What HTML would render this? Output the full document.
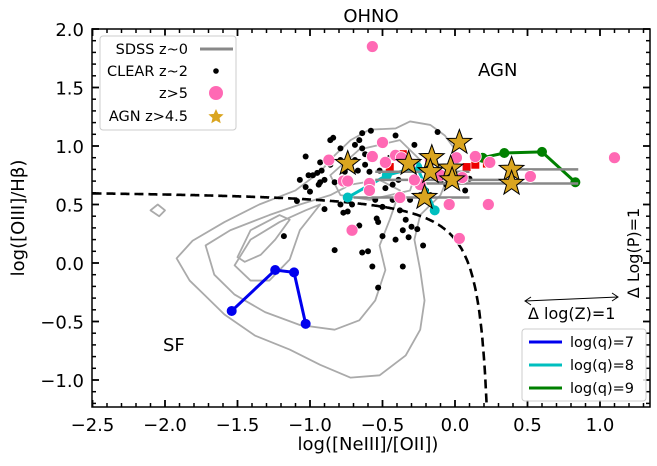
<!DOCTYPE html>
<html><head><meta charset="utf-8"><style>
body{margin:0;background:#fff}
svg text{font-family:"DejaVu Sans","Liberation Sans",sans-serif}
</style></head><body>
<svg id="c" width="657" height="461" viewBox="0 0 657 461" xmlns="http://www.w3.org/2000/svg"></svg>
<script>
const xTicks=[-2.5,-2.0,-1.5,-1.0,-0.5,0.0,0.5,1.0];
const yTicks=[-1.0,-0.5,0.0,0.5,1.0,1.5,2.0];
const qLines={q7:[[-1.54,-0.41],[-1.24,-0.06],[-1.11,-0.08],[-1.03,-0.52]],q8:[[-0.74,0.56],[-0.47,0.75],[-0.26,0.82],[-0.14,0.45]],q9:[[0.19,0.90],[0.34,0.94],[0.60,0.95],[0.83,0.69]]};
const clearX=[-1.03,-1.09,-0.90,-1.18,-0.83,-0.66,-0.73,-0.64,-0.60,-0.54,-0.50,-0.57,-0.53,-0.36,-0.30,-0.26,-0.22,-0.12,-0.79,-0.77,-1.01,-0.95,-0.93,-0.83,-0.76,-0.86,-0.84,-0.69,-0.66,-0.64,-0.69,-0.72,-0.76,-0.67,-0.62,-0.59,-0.79,-0.86,-0.90,-0.94,-0.92,-1.00,-0.52,-0.48,-0.43,-0.39,-0.43,-0.38,-0.34,-0.36,-0.27,-0.24,-0.17,0.00,-0.06,-0.28,-0.41,-0.58,-0.64,-0.79,-1.07,-1.03,-0.98,-0.55,-0.53,-0.50,-0.31,-0.71,-0.74,-0.32,-0.41,-0.20,-0.10,0.07,0.10,-0.45,-0.62,-0.93];
const clearY=[0.91,0.53,0.46,0.23,0.11,0.32,0.27,0.09,0.10,0.38,0.23,-0.03,-0.21,-0.03,0.31,0.29,0.15,1.12,0.50,0.43,0.75,0.77,0.69,0.69,0.80,1.05,1.07,1.01,1.05,0.98,0.88,0.84,0.78,0.79,0.84,0.78,0.88,0.84,0.71,0.67,0.79,0.61,0.79,0.64,0.67,0.71,0.54,0.45,0.37,0.28,0.71,0.58,0.58,0.75,0.67,1.01,1.09,1.13,1.11,0.98,0.71,0.65,0.75,0.54,0.35,0.48,0.54,0.50,0.44,0.22,0.20,0.62,0.70,0.62,0.72,0.90,0.93,0.86];
const z5X=[-0.57,1.10,0.52,0.23,0.03,-0.04,-0.87,-0.57,-0.50,-0.77,-0.59,-0.59,-0.71,-0.41,-0.37,-0.31,-0.17,0.01,0.14,-0.38,-0.24,0.24,-0.28,-0.48,-0.10,0.05,-0.74];
const z5Y=[1.85,0.90,0.74,0.50,0.21,0.50,0.88,0.91,1.03,0.70,0.68,0.62,0.28,0.92,0.90,0.85,0.88,0.90,0.91,0.56,0.67,0.86,0.71,0.86,0.75,0.73,0.70];
const redX=[-0.36,-0.45,0.08,0.22,0.14];
const redY=[0.93,0.82,0.82,0.85,0.84];
const agnX=[0.03,-0.74,-0.32,-0.16,-0.17,-0.03,-0.02,0.39,0.39,-0.21];
const agnY=[1.03,0.85,0.85,0.90,0.78,0.81,0.71,0.80,0.68,0.56];
const agnXlo=[0.03,-0.74,-0.32,-0.16,-0.55,-0.03,-0.55,0.39,-0.30,-0.70];
const agnXhi=[0.03,-0.74,-0.32,-0.16,0.10,-0.03,0.40,0.85,0.85,0.10];
const sdssC1=[[-1.92,0.04],[-1.81,0.19],[-1.59,0.35],[-1.35,0.50],[-1.10,0.62],[-0.93,0.78],[-0.83,0.92],[-0.72,1.05],[-0.59,1.14],[-0.41,1.15],[-0.31,1.21],[-0.17,1.18],[-0.07,1.09],[0,0.97],[-0.03,0.79],[-0.10,0.58],[-0.24,0.41],[-0.28,0.20],[-0.24,-0.06],[-0.21,-0.32],[-0.24,-0.57],[-0.34,-0.79],[-0.52,-0.96],[-0.72,-0.98],[-0.93,-0.87],[-1.14,-0.74],[-1.38,-0.62],[-1.59,-0.44],[-1.73,-0.27],[-1.83,-0.15]];
const sdssC2=[[-1.72,0.15],[-1.55,0.28],[-1.28,0.41],[-1.07,0.50],[-0.86,0.58],[-0.72,0.67],[-0.52,0.71],[-0.38,0.62],[-0.45,0.37],[-0.52,0.15],[-0.48,-0.06],[-0.55,-0.32],[-0.66,-0.49],[-0.83,-0.57],[-1.07,-0.53],[-1.31,-0.42],[-1.52,-0.27],[-1.66,-0.10]];
const sdssC3=[[-1.52,-0.02],[-1.41,0.20],[-1.21,0.35],[-1.03,0.45],[-0.93,0.50],[-1.07,0.28],[-1.14,0.03],[-1.28,-0.15],[-1.41,-0.15]];
const sdssC4=[[-1.50,0.05],[-1.41,0.28],[-1.21,0.41],[-1.14,0.37],[-1.24,0.20],[-1.34,0.07],[-1.45,0.01]];
const sdssC5=[[-0.86,0.75],[-0.66,0.97],[-0.38,1.05],[-0.24,0.88],[-0.31,0.62],[-0.59,0.54],[-0.79,0.58]];
const sdssC6=[[-2.10,0.45],[-2.04,0.40],[-2.00,0.45],[-2.05,0.50]];

const X0=455,XS=145,Y0=263,YS=117,L=92,R=650,T=29,B=407;
const sx=v=>X0+XS*v, sy=v=>Y0-YS*v;
const svg=document.getElementById('c');
const NS='http://www.w3.org/2000/svg';
function mk(tag,attrs,parent){const e=document.createElementNS(NS,tag);for(const k in attrs)e.setAttribute(k,attrs[k]);(parent||svg).appendChild(e);return e;}
const clip=mk('clipPath',{id:'pc'});mk('rect',{x:L,y:T,width:R-L,height:B-T},clip);
const plot=mk('g',{'clip-path':'url(#pc)'});



[sdssC1,sdssC2,sdssC3,sdssC4,sdssC5,sdssC6].forEach((c,i)=>{
 const p=mk('polygon',{points:c.map(q=>sx(q[0])+','+sy(q[1])).join(' '),fill:'none',stroke:'#aaaaaa','stroke-width':1.8,'stroke-linejoin':'round'},plot);
 
 
});
let d='';for(let x=-2.5;x<=0.235;x+=0.004){const y=0.35/(2.8*x-0.8)+0.64;d+=(d?'L':'M')+sx(x).toFixed(1)+','+sy(y).toFixed(1);}
const dm=mk('path',{d:d,fill:'none',stroke:'#000','stroke-width':2.6,'stroke-dasharray':'9,5'},plot);


clearX.forEach((x,i)=>{const c=mk('circle',{cx:sx(x),cy:sy(clearY[i]),r:3,fill:'#000'},plot);
 
 });
const qc={q7:'#0000ee',q8:'#00bfbf',q9:'#008000'};
for(const k in qLines){const pts=qLines[k];
 const pl=mk('polyline',{points:pts.map(q=>sx(q[0])+','+sy(q[1])).join(' '),fill:'none',stroke:qc[k],'stroke-width':3},plot);
 
 
 pts.forEach(q=>{const c=mk('circle',{cx:sx(q[0]),cy:sy(q[1]),r:5,fill:qc[k]},plot);
  
  });}
redX.forEach((x,i)=>{const r=mk('rect',{x:sx(x)-4,y:sy(redY[i])-4,width:8,height:8,fill:'#ee0000'},plot);
 
 });
agnX.forEach((x,i)=>{if(agnXhi[i]-agnXlo[i]>0.01){const l=mk('line',{x1:sx(agnXlo[i]),x2:sx(agnXhi[i]),y1:sy(agnY[i]),y2:sy(agnY[i]),stroke:'#888','stroke-width':2.5},plot);
 
 }});
z5X.forEach((x,i)=>{const c=mk('circle',{cx:sx(x),cy:sy(z5Y[i]),r:6,fill:'#ff69b4',stroke:'#fff','stroke-width':0.8},plot);
 
 });
function star(cx,cy,R,r){let p=[];for(let k=0;k<10;k++){const a=-Math.PI/2+k*Math.PI/5,rr=k%2?r:R;p.push((cx+rr*Math.cos(a)).toFixed(1)+','+(cy+rr*Math.sin(a)).toFixed(1));}return p.join(' ');}
agnX.forEach((x,i)=>{const s=mk('polygon',{points:star(sx(x),sy(agnY[i]),13,5.3),fill:'#daa520',stroke:'#000','stroke-width':1},plot);
 
 });

const fr=mk('rect',{x:L,y:T,width:R-L,height:B-T,fill:'none',stroke:'#000','stroke-width':1.5});


for(let k=-25;k<=13;k++){const x=sx(k/10),maj=k%5==0,len=maj?7:4;
 mk('line',{x1:x,x2:x,y1:B,y2:B-len,stroke:'#000','stroke-width':maj?1.8:1.5});
 mk('line',{x1:x,x2:x,y1:T,y2:T+len,stroke:'#000','stroke-width':maj?1.8:1.5});}
for(let k=-12;k<=20;k++){const y=sy(k/10),maj=k%5==0,len=maj?7:4;
 mk('line',{x1:L,x2:L+len,y1:y,y2:y,stroke:'#000','stroke-width':maj?1.8:1.5});
 mk('line',{x1:R,x2:R-len,y1:y,y2:y,stroke:'#000','stroke-width':maj?1.8:1.5});}
xTicks.forEach(v=>{const t=mk('text',{x:sx(v),y:B+24,'font-size':18,'text-anchor':'middle'});t.textContent=v.toFixed(1).replace('-','\u2212');
 
 });
yTicks.forEach(v=>{const t=mk('text',{x:L-8,y:sy(v)+7,'font-size':18,'text-anchor':'end'});t.textContent=v.toFixed(1).replace('-','\u2212');
 
 });
</script>
<svg width="657" height="461" style="position:absolute;left:0;top:0;pointer-events:none" xmlns="http://www.w3.org/2000/svg">
 <text x="371" y="22" font-size="18" text-anchor="middle">OHNO</text>
 <text x="368" y="450" font-size="18" text-anchor="middle">log([NeIII]/[OII])</text>
 <text transform="translate(24,218) rotate(-90)" font-size="18" text-anchor="middle">log([OIII]/Hβ)</text>
 <text x="478" y="76" font-size="18">AGN</text>
 <text x="163" y="351" font-size="18">SF</text>
 <g stroke="#000" fill="none" stroke-width="1">
  <line x1="525" y1="301" x2="618" y2="297"/><polyline points="531,297 525,301 531,305"/><polyline points="612,293 618,297 612,301"/>
 </g>
 <text x="528" y="319" font-size="16">Δ log(Z)=1</text>
 <text transform="translate(639,253) rotate(-90)" font-size="16" text-anchor="middle">Δ Log(P)=1</text>
 <g>
  <rect x="100" y="36" width="136" height="94" rx="3" fill="#fff" fill-opacity="0.85" stroke="#ccc"/>
  <g font-size="14.5" text-anchor="end">
   <text x="188" y="54">SDSS z~0</text><text x="188" y="76">CLEAR z~2</text><text x="188" y="98">z&gt;5</text><text x="188" y="121">AGN z&gt;4.5</text>
  </g>
  <line x1="200" y1="49" x2="233" y2="49" stroke="#888" stroke-width="3"/>
  <circle cx="216" cy="71" r="2.8" fill="#000"/>
  <circle cx="216" cy="93" r="7" fill="#ff69b4"/>
  <polygon points="216,109 218.2,113.9 223.6,114.4 219.5,118 220.7,123.3 216,120.5 211.3,123.3 212.5,118 208.4,114.4 213.8,113.9" fill="#daa520"/>
 </g>
 <g>
  <rect x="522" y="329" width="124" height="72" rx="3" fill="#fff" fill-opacity="0.85" stroke="#ccc"/>
  <line x1="529" y1="342" x2="562" y2="342" stroke="#0000ee" stroke-width="3"/>
  <line x1="529" y1="365" x2="562" y2="365" stroke="#00bfbf" stroke-width="3"/>
  <line x1="529" y1="388" x2="562" y2="388" stroke="#008000" stroke-width="3"/>
  <g font-size="14.5"><text x="570" y="347">log(q)=7</text><text x="570" y="370">log(q)=8</text><text x="570" y="393">log(q)=9</text></g>
 </g>
</svg>
</body></html>
